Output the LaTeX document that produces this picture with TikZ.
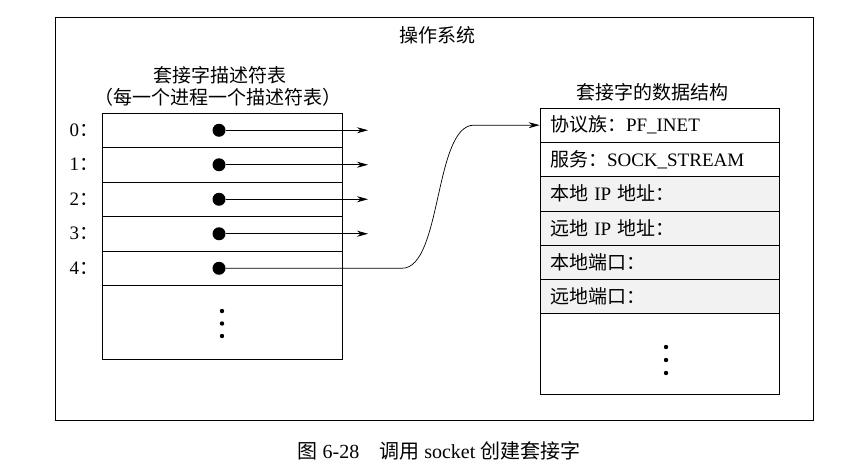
\documentclass[tikz,border=0pt]{standalone}
\usepackage{fontspec}
\setmainfont{Liberation Serif}
\newfontfamily\cjk{Noto Sans CJK SC}
\usetikzlibrary{arrows.meta}
\tikzset{
  fdrow/.style={draw, line width=0.8pt, minimum width=240pt, minimum height=34.5pt, inner sep=0pt},
  sockrow/.style={draw, line width=0.8pt, text width=219pt, inner xsep=10pt, inner ysep=0pt, minimum height=34.3pt, align=left},
  ptr/.style={circle, fill, inner sep=0pt, minimum size=13pt},
  arr/.style={line width=0.7pt, -{Stealth[length=11pt, width=6pt]}}
}
\begin{document}
\begin{tikzpicture}[x=1pt, y=-1pt, font=\fontsize{19}{22}\selectfont]
      \useasboundingbox (0,0) rectangle (858,466);
      \draw[line width=0.8pt] (55,17) rectangle (813,420);
      \node (os) at (437,35) {\cjk 操作系统};

      % socket descriptor table
      \node (fdtitle) at (220,75) {\cjk 套接字描述符表};
      \node (fdnote) at (218,97) {\cjk （每一个进程一个描述符表）};
      \node[fdrow] (fd0) at (222,130.25){};
      \node[fdrow] (fd1) at (222,164.75){};
      \node[fdrow] (fd2) at (222,199.25){};
      \node[fdrow] (fd3) at (222,233.75){};
      \node[fdrow] (fd4) at (222,268.25){};
      \node[fdrow, minimum height=73.5pt] (fd5) at (222,322.25){};
      \node[anchor=east] (lab0) at (fd0.west) {0{\cjk ：}};
      \node[anchor=east] (lab1) at (fd1.west) {1{\cjk ：}};
      \node[anchor=east] (lab2) at (fd2.west) {2{\cjk ：}};
      \node[anchor=east] (lab3) at (fd3.west) {3{\cjk ：}};
      \node[anchor=east] (lab4) at (fd4.west) {4{\cjk ：}};
      \node[ptr] (d0) at (219,130.25){};
      \node[ptr] (d1) at (219,164.75){};
      \node[ptr] (d2) at (219,199.25){};
      \node[ptr] (d3) at (219,233.75){};
      \node[ptr] (d4) at (219,268.25){};
      \coordinate (e0) at (368,130.25);
      \coordinate (e1) at (368,164.75);
      \coordinate (e2) at (368,199.25);
      \coordinate (e3) at (368,233.75);
      \draw[arr](d0) -- (e0);
      \draw[arr](d1) -- (e1);
      \draw[arr](d2) -- (e2);
      \draw[arr](d3) -- (e3);
      \fill (222,311) circle (2.2) (222,323.5) circle (2.2) (222,336) circle (2.2);

      % socket data structure
      \node (sktitle) at (652,92) {\cjk 套接字的数据结构};
      \node[sockrow] (sk0) at (659.5,125.15) {{\cjk 协议族：}PF\_INET};
      \node[sockrow] (sk1) at (659.5,159.45) {{\cjk 服务：}SOCK\_STREAM};
      \node[sockrow, fill=black!5] (sk2) at (659.5,193.75) {{\cjk 本地} IP {\cjk 地址：}};
      \node[sockrow, fill=black!5] (sk3) at (659.5,228.05) {{\cjk 远地} IP {\cjk 地址：}};
      \node[sockrow, fill=black!5] (sk4) at (659.5,262.35) {\cjk 本地端口：};
      \node[sockrow, fill=black!5] (sk5) at (659.5,296.65) {\cjk 远地端口：};
      \node[sockrow, minimum height=80.2pt] (sk6) at (659.5,353.9){};
      \fill (666,347) circle (2.2) (666,360) circle (2.2) (666,373) circle (2.2);

      \coordinate (bend1) at (402,268.25);
      \coordinate (bend2) at (474,125.15);
      \draw[arr](d4) -- (bend1) .. controls (442,268.25) and (434,125.15) .. (bend2) -- (sk0.west);

      \node (cap) at (439,451) {\fontsize{20}{23}\selectfont{\cjk 图} 6-28\quad{\cjk 调用} socket {\cjk 创建套接字}};
    \end{tikzpicture}
\end{document}
